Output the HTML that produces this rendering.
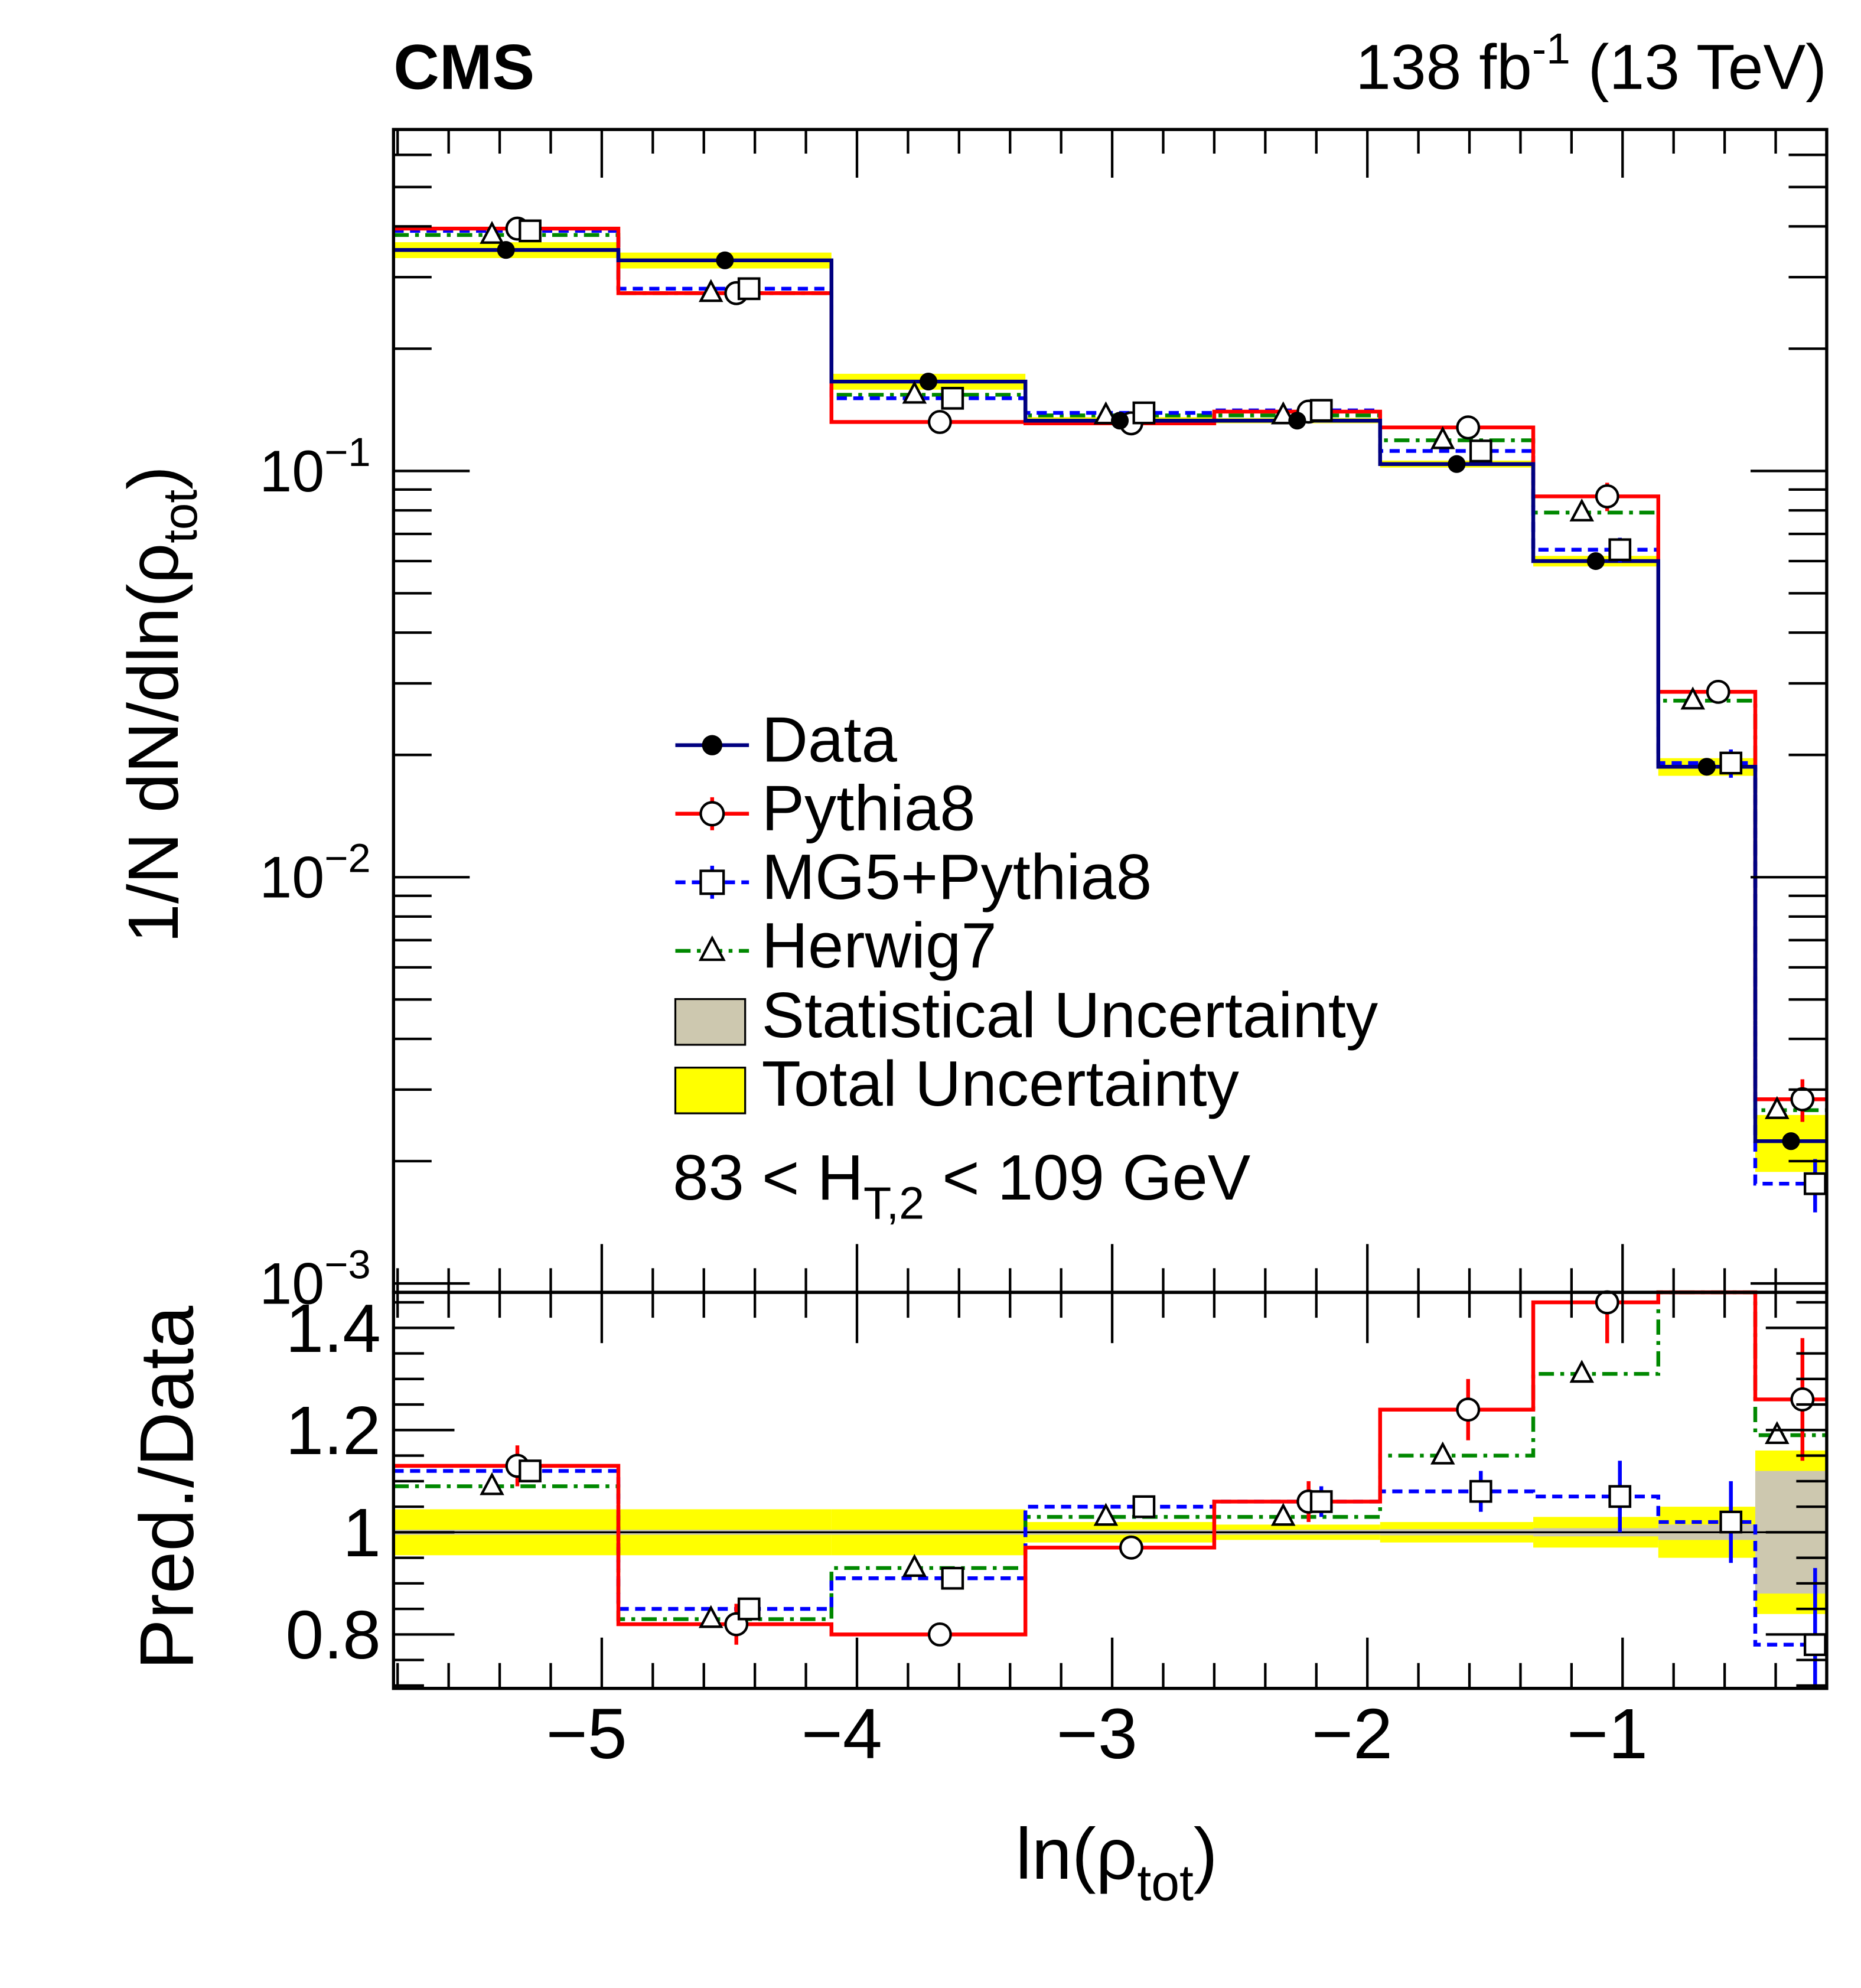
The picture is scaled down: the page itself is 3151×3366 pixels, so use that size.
<!DOCTYPE html>
<html><head><meta charset="utf-8"><style>
html,body{margin:0;padding:0;background:#fff;}
svg{display:block;font-family:"Liberation Sans",sans-serif;}
</style></head><body>
<svg id="chart" width="3151" height="3366" viewBox="0 0 1466 1566" preserveAspectRatio="none" xmlns="http://www.w3.org/2000/svg">
<rect width="1466" height="1566" fill="#fff"/>
<text x="310" y="70" font-size="50" font-weight="bold">CMS</text>
<text x="1439" y="70" font-size="50" text-anchor="end">138 fb<tspan dy="-20" font-size="34">-1</tspan><tspan dy="20"> (13 TeV)</tspan></text>
<g id="bands"></g><g id="lines"></g><g id="marks"></g><g id="axes"></g>
<text transform="translate(140,555) rotate(-90)" font-size="56" text-anchor="middle">1/N dN/dln(ρ<tspan dy="15" font-size="38">tot</tspan><tspan dy="-15">)</tspan></text>
<text transform="translate(152,1172) rotate(-90)" font-size="60" text-anchor="middle">Pred./Data</text>
<text x="800" y="1480" font-size="57">ln(ρ<tspan dy="17" font-size="40">tot</tspan><tspan dy="-17">)</tspan></text>
<g id="legend">
 <g><line x1="532" y1="587" x2="590" y2="587" stroke="#000080" stroke-width="3"/><circle cx="561" cy="587" r="8" fill="#000"/><text x="600" y="600" font-size="50.5">Data</text></g>
 <g><line x1="532" y1="641" x2="590" y2="641" stroke="#f00" stroke-width="3"/><line x1="561" y1="628" x2="561" y2="654" stroke="#f00" stroke-width="3"/><circle cx="561" cy="641" r="9" fill="#fff" stroke="#000" stroke-width="2"/><text x="600" y="654" font-size="50.5">Pythia8</text></g>
 <g><line x1="532" y1="695" x2="590" y2="695" stroke="#00f" stroke-width="3" stroke-dasharray="8,5"/><line x1="561" y1="682" x2="561" y2="708" stroke="#00f" stroke-width="3"/><rect x="552" y="686" width="18" height="18" fill="#fff" stroke="#000" stroke-width="2"/><text x="600" y="708" font-size="50.5">MG5+Pythia8</text></g>
 <g><line x1="532" y1="749" x2="590" y2="749" stroke="#080" stroke-width="3" stroke-dasharray="12,5,3,5"/><polygon points="561,739 570,756 552,756" fill="#fff" stroke="#000" stroke-width="2"/><text x="600" y="762" font-size="50.5">Herwig7</text></g>
 <g><rect x="532" y="787" width="55" height="36" fill="#cdc8af" stroke="#000" stroke-width="1.5"/><text x="600" y="817" font-size="50.5">Statistical Uncertainty</text></g>
 <g><rect x="532" y="841" width="55" height="36" fill="#ff0" stroke="#000" stroke-width="1.5"/><text x="600" y="871" font-size="50.5">Total Uncertainty</text></g>
 <text x="530" y="945" font-size="50.5">83 &lt; H<tspan dy="15" font-size="36">T,2</tspan><tspan dy="-15"> &lt; 109 GeV</tspan></text>
</g>
</svg>
<script>
const binEdges=[-5.816,-4.935,-4.1,-3.34,-2.6,-1.95,-1.35,-0.86,-0.48,-0.2];
const dataVals=[0.350,0.330,0.166,0.133,0.133,0.104,0.060,0.0187,0.00224];
const dataTotUnc=[0.045,0.045,0.045,0.02,0.015,0.02,0.03,0.05,0.16];
const dataStatUnc=[0.005,0.005,0.005,0.005,0.005,0.006,0.008,0.015,0.12];
const pythiaVals=[0.395,0.274,0.132,0.131,0.140,0.128,0.0866,0.0286,0.00284];
const mg5Vals=[0.390,0.281,0.151,0.139,0.141,0.112,0.064,0.0191,0.00176];
const herwigVals=[0.381,0.274,0.154,0.137,0.137,0.119,0.079,0.0272,0.00267];
const pythiaRatio=[1.13,0.82,0.80,0.97,1.06,1.24,1.45,1.53,1.26];
const mg5Ratio=[1.12,0.85,0.91,1.05,1.06,1.08,1.07,1.02,0.78];
const herwigRatio=[1.09,0.83,0.93,1.03,1.03,1.15,1.31,1.48,1.19];
const pythiaErr=[0.04,0.04,0.02,0.02,0.04,0.06,0.08,0.06,0.12];
const mg5Err=[0.02,0.02,0.02,0.01,0.03,0.04,0.07,0.08,0.15];
const xTicks=[-5,-4,-3,-2,-1];
const ratioTicks=[0.8,1,1.2,1.4];

const NS="http://www.w3.org/2000/svg";
const L=310,R=1439,T=102,B=1018,RB=1330;
const X=v=>L+(v-(-5.816))/((-0.2)-(-5.816))*(R-L);
const Y=v=>371-(Math.log10(v)+1)*320;
const YR=v=>1207-(v-1)*402.5;
function mk(p,tag,a){const e=document.createElementNS(NS,tag);for(const k in a)e.setAttribute(k,a[k]);document.getElementById(p).appendChild(e);return e;}
const clipY=(y,top,bot)=>Math.max(top,Math.min(bot,y));

for(let i=0;i<9;i++){
 const x0=X(binEdges[i]),x1=X(binEdges[i+1]);
 let e=mk('bands','rect',{x:x0,y:Y(dataVals[i]*(1+dataTotUnc[i])),width:x1-x0,height:Y(dataVals[i]*(1-dataTotUnc[i]))-Y(dataVals[i]*(1+dataTotUnc[i])),fill:'#ff0'});
 
 
 e=mk('bands','rect',{x:x0,y:YR(1+dataTotUnc[i]),width:x1-x0,height:YR(1-dataTotUnc[i])-YR(1+dataTotUnc[i]),fill:'#ff0'});
 
 
 e=mk('bands','rect',{x:x0,y:YR(1+dataStatUnc[i]),width:x1-x0,height:YR(1-dataStatUnc[i])-YR(1+dataStatUnc[i]),fill:'#cdc8af'});
 
 
}
let e=mk('bands','line',{x1:L,x2:R,y1:YR(1),y2:YR(1),stroke:'#000','stroke-width':1.5});



function step(vals,fn,top,bot,color,dash,name){
 let d='';
 for(let i=0;i<9;i++){const y=clipY(fn(vals[i]),top,bot);d+=(i?'L':'M')+X(binEdges[i])+','+y+'L'+X(binEdges[i+1])+','+y;}
 const p=mk('lines','path',{d:d,fill:'none',stroke:color,'stroke-width':3,'stroke-dasharray':dash});
 
 
}
step(herwigVals,Y,T,B,'#080','12,5,3,5','herwig7-histogram');
step(mg5Vals,Y,T,B,'#00f','8,5','mg5-histogram');
step(pythiaVals,Y,T,B,'#f00','none','pythia8-histogram');
step(dataVals,Y,T,B,'#000080','none','data-histogram');
step(herwigRatio,YR,B,RB,'#080','12,5,3,5','herwig7-ratio-histogram');
step(mg5Ratio,YR,B,RB,'#00f','8,5','mg5-ratio-histogram');
step(pythiaRatio,YR,B,RB,'#f00','none','pythia8-ratio-histogram');

function marker(kind,cx,cy,err1,err2,color,name){
 if(err1!==null){const l=mk('marks','line',{x1:cx,x2:cx,y1:err1,y2:err2,stroke:color,'stroke-width':3});
  
  }
 let m;
 if(kind==='dot')m=mk('marks','circle',{cx:cx,cy:cy,r:7,fill:'#000'});
 else if(kind==='circle')m=mk('marks','circle',{cx:cx,cy:cy,r:8.5,fill:'#fff',stroke:'#000','stroke-width':2});
 else if(kind==='square')m=mk('marks','rect',{x:cx-8,y:cy-8,width:16,height:16,fill:'#fff',stroke:'#000','stroke-width':2});
 else m=mk('marks','polygon',{points:`${cx},${cy-9} ${cx+8},${cy+6} ${cx-8},${cy+6}`,fill:'#fff',stroke:'#000','stroke-width':2});
 
 
}
for(let i=0;i<9;i++){
 const c=(X(binEdges[i])+X(binEdges[i+1]))/2;
 marker('triangle',c-11,Y(herwigVals[i]),null,null,'#080','herwig7-point');
 marker('circle',c+9,Y(pythiaVals[i]),Y(pythiaVals[i]*(1+pythiaErr[i])),Y(pythiaVals[i]*(1-pythiaErr[i])),'#f00','pythia8-point');
 marker('square',c+19,Y(mg5Vals[i]),Y(mg5Vals[i]*(1+mg5Err[i])),Y(mg5Vals[i]*(1-mg5Err[i])),'#00f','mg5-point');
 marker('dot',c,Y(dataVals[i]),null,null,'#000','data-point');
 if(herwigRatio[i]<1.47) marker('triangle',c-11,YR(herwigRatio[i]),null,null,'#080','herwig7-ratio-point');
 if(pythiaRatio[i]<1.47) marker('circle',c+9,YR(pythiaRatio[i]),clipY(YR(pythiaRatio[i]+pythiaErr[i]),B,RB),clipY(YR(pythiaRatio[i]-pythiaErr[i]),B,RB),'#f00','pythia8-ratio-point');
 if(mg5Ratio[i]<1.47) marker('square',c+19,YR(mg5Ratio[i]),clipY(YR(mg5Ratio[i]+mg5Err[i]),B,RB),clipY(YR(mg5Ratio[i]-mg5Err[i]),B,RB),'#00f','mg5-ratio-point');
}

function line(x1,y1,x2,y2,w,name){const l=mk('axes','line',{x1:x1,y1:y1,x2:x2,y2:y2,stroke:'#000','stroke-width':w||2});
 
 }
let f=mk('axes','rect',{x:L,y:T,width:R-L,height:B-T,fill:'none',stroke:'#000','stroke-width':2.5});


f=mk('axes','rect',{x:L,y:B,width:R-L,height:RB-B,fill:'none',stroke:'#000','stroke-width':2.5});


for(let v=-5.8;v<=-0.2;v+=0.2){
 const r=Math.round(v*10)/10,maj=Math.abs(r-Math.round(r))<1e-6,x=X(r);
 if(x<L+1)continue;
 const lt=maj?38:19,lr=maj?40:20;
 line(x,B,x,B-lt);line(x,T,x,T+lt);line(x,RB,x,RB-lr);line(x,B,x,B+lr);
}
xTicks.forEach(v=>{const t=mk('axes','text',{x:X(v)-12,y:1385,'font-size':56,'text-anchor':'middle'});t.textContent='−'+Math.abs(v);
 
 });
for(let d=-3;d<=-1;d++)for(let k=1;k<=9;k++){
 const v=k*Math.pow(10,d),y=Y(v);if(y<T||y>B)continue;
 const len=k===1?60:30;line(L,y,L+len,y);line(R,y,R-len,y);
}
[-1,-2,-3].forEach(d=>{const t=mk('axes','text',{x:292,y:Y(Math.pow(10,d))+16,'font-size':46,'text-anchor':'end'});
 t.innerHTML='10<tspan dy="-20" font-size="32">−'+(-d)+'</tspan>';
 
 });
for(let v=0.7;v<=1.47;v+=0.05){const r=Math.round(v*100)/100,y=YR(r);const maj=Math.abs(r*5-Math.round(r*5))<1e-6;const len=maj?48:24;line(L,y,L+len,y);line(R,y,R-len,y);}
ratioTicks.forEach(v=>{const t=mk('axes','text',{x:300,y:YR(v)+19,'font-size':54,'text-anchor':'end'});t.textContent=String(v);
 
 });
</script>
</body></html>
